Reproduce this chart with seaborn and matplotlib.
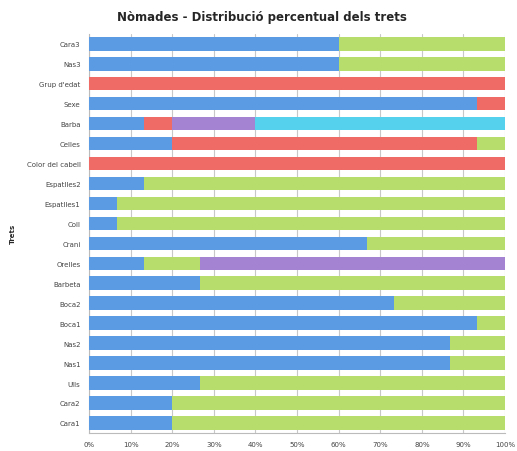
import numpy as np
import pandas as pd
import matplotlib
matplotlib.use("Agg")
import matplotlib.pyplot as plt
import seaborn as sns

# Traits, top to bottom as in the chart
trets = ["Cara3", "Nas3", "Grup d'edat", "Sexe", "Barba", "Celles", "Color del cabell",
         "Espatlles2", "Espatlles1", "Coll", "Crani", "Orelles", "Barbeta", "Boca2",
         "Boca1", "Nas2", "Nas1", "Ulls", "Cara2", "Cara1"]

# percentage of each category (stack order: blue, red, green, purple, cyan)
blau = [60, 60, 0, 93.3, 13.3, 20, 0, 13.3, 6.7, 6.7, 66.7, 13.3, 26.7, 73.3, 93.3, 86.7, 86.7, 26.7, 20, 20]
vermell = [0, 0, 100, 6.7, 6.7, 73.3, 100, 0, 0, 0, 0, 0, 0, 0, 0, 0, 0, 0, 0, 0]
verd = [40, 40, 0, 0, 0, 6.7, 0, 86.7, 93.3, 93.3, 33.3, 13.3, 73.3, 26.7, 6.7, 13.3, 13.3, 73.3, 80, 80]
lila = [0, 0, 0, 0, 20, 0, 0, 0, 0, 0, 0, 73.3, 0, 0, 0, 0, 0, 0, 0, 0]
cian = [0, 0, 0, 0, 60, 0, 0, 0, 0, 0, 0, 0, 0, 0, 0, 0, 0, 0, 0, 0]

series = [blau, vermell, verd, lila, cian]
colors = ["#5A9BE3", "#EE6B66", "#B7DE6C", "#A483D3", "#55D1EE"]

df = pd.DataFrame({"Trets": trets})
cum = np.zeros(len(trets))
cols = []
for i, s in enumerate(series):
    cum = cum + np.array(s)
    df[f"c{i}"] = cum
    cols.append(f"c{i}")

sns.set_style("white")
plt.rcParams["font.family"] = ["DejaVu Sans"]

fig = plt.figure(figsize=(5.17, 4.52), dpi=100)
ax = fig.add_axes([0.172, 0.04, 0.805, 0.883])

# draw cumulative totals from the back so each stack segment shows
for col, c in zip(reversed(cols), reversed(colors)):
    sns.barplot(data=df, x=col, y="Trets", orient="h", color=c, width=0.68,
                saturation=1, ax=ax, linewidth=0, zorder=3)

ax.set_xlim(0, 100)
ax.set_ylim(19.5, -0.5)
ax.set_xticks(np.arange(0, 101, 10))
ax.set_xticklabels([f"{v}%" for v in range(0, 101, 10)], fontsize=5, color="#444444")
ax.tick_params(axis="y", labelsize=5, colors="#444444", length=0, pad=6)
ax.tick_params(axis="x", length=3, color="#BBBBBB", pad=3)
ax.grid(axis="x", color="#C8C8C8", linewidth=0.8, zorder=0)
ax.set_axisbelow(True)
ax.set_xlabel("")
ax.set_ylabel("Trets", fontsize=5, fontweight="bold")
ax.yaxis.set_label_coords(-0.175, 0.5)
for sp in ["top", "right"]:
    ax.spines[sp].set_visible(False)
for sp in ["left", "bottom"]:
    ax.spines[sp].set_color("#BBBBBB")
    ax.spines[sp].set_linewidth(0.8)

fig.suptitle("Nòmades - Distribució percentual dels trets", fontsize=8.5,
             fontweight="bold", x=0.507, y=0.975)

fig.savefig("out.png", dpi=100)
